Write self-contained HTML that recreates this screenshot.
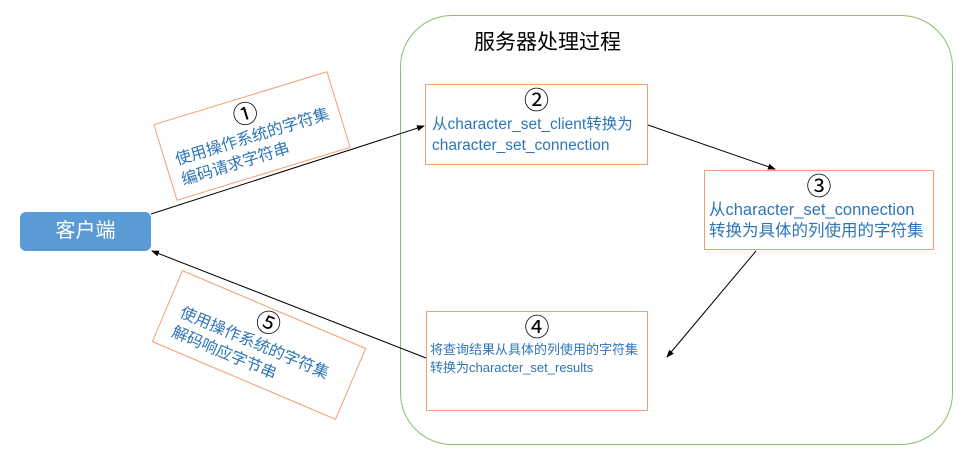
<!DOCTYPE html>
<html><head><meta charset="utf-8"><style>
body{margin:0;width:974px;height:469px;background:#fff;position:relative;overflow:hidden;font-family:"Liberation Sans","Noto Sans CJK SC",sans-serif}
.b{position:absolute;border:1.5px solid #f0a070;box-sizing:border-box;background:#fff;color:#2e75b6}
.n{text-align:center;color:#000;font-size:25px;line-height:26px}
.t{font-size:15.5px;line-height:21px}
</style></head><body>
<div style="position:absolute;left:400px;top:15px;width:553px;height:430px;border:1.5px solid #8cbf6a;border-radius:52px;box-sizing:border-box"></div>
<div style="position:absolute;left:474px;top:26px;font-size:21px;color:#000">服务器处理过程</div>
<div style="position:absolute;left:20px;top:212px;width:131px;height:39px;background:#5b9bd5;border-radius:6px;color:#fff;font-size:20px;text-align:center;line-height:39px">客户端</div>
<div class="b" style="left:425px;top:84px;width:223px;height:81px;padding:3px 6px"><div class="n">②</div><div class="t">从character_set_client转换为<br>character_set_connection</div></div>
<div class="b" style="left:704px;top:170px;width:230px;height:80px;padding:3px 4px"><div class="n">③</div><div class="t" style="font-size:16.5px">从character_set_connection<br>转换为具体的列使用的字符集</div></div>
<div class="b" style="left:426px;top:311px;width:222px;height:100px;padding:3px 3px"><div class="n">④</div><div class="t" style="font-size:13px;line-height:18px">将查询结果从具体的列使用的字符集<br>转换为character_set_results</div></div>
<div class="b" style="left:161px;top:96px;width:182px;height:80px;transform:rotate(-17deg);padding:4px 10px"><div class="n">①</div><div class="t" style="font-size:16px">使用操作系统的字符集<br>编码请求字符串</div></div>
<div class="b" style="left:159px;top:306px;width:200px;height:78px;transform:rotate(23deg);padding:2px 14px"><div class="n">⑤</div><div class="t" style="font-size:16px">使用操作系统的字符集<br>解码响应字节串</div></div>
<svg width="974" height="469" style="position:absolute;left:0;top:0">
<defs><marker id="a" markerWidth="8" markerHeight="8" refX="7" refY="4" orient="auto"><path d="M0,1 L8,4 L0,7z" fill="#000"/></marker></defs>
<g stroke="#000" stroke-width="1" marker-end="url(#a)">
<line x1="151" y1="214" x2="424" y2="126"/>
<line x1="648" y1="125" x2="775" y2="169"/>
<line x1="756" y1="251" x2="667" y2="357"/>
<line x1="426" y1="358" x2="152" y2="251"/>
</g></svg>
</body></html>
